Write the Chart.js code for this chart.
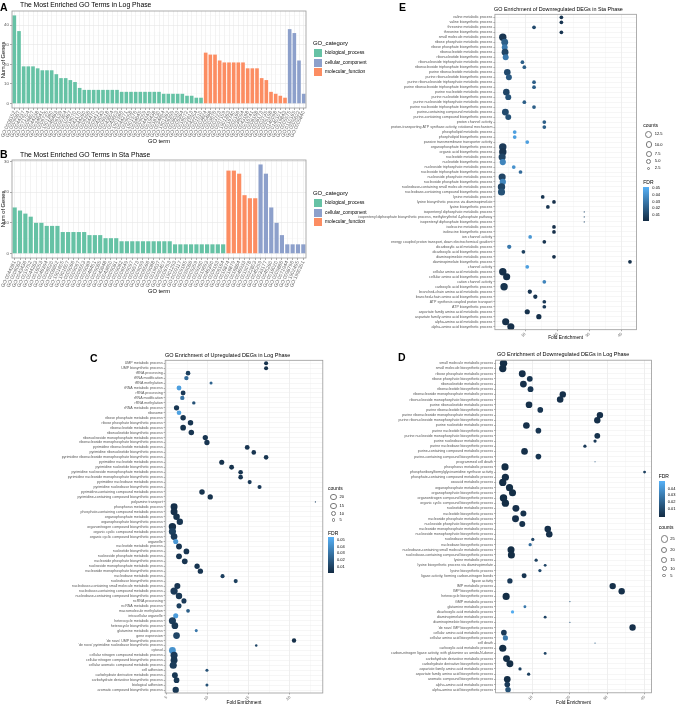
<!DOCTYPE html>
<html>
<head>
<meta charset="utf-8">
<script src="https://cdn.jsdelivr.net/npm/chart.js@4.4.1/dist/chart.umd.min.js"></script>
<style>
body { margin: 0; background: #fff; }
#page { position: relative; width: 678px; height: 708px; overflow: hidden; font-family: 'Liberation Sans', Arial, sans-serif; }
canvas { position: absolute; }
.t { position: absolute; white-space: nowrap; line-height: 1; color: #000; }
.b { position: absolute; box-sizing: border-box; }
</style>
</head>
<body>
<div id="page">
  <canvas id="cA" width="340" height="150" style="left:0;top:0"></canvas>
  <canvas id="cB" width="340" height="150" style="left:0;top:145px"></canvas>
  <canvas id="cE" width="338" height="340" style="left:340px;top:0"></canvas>
  <canvas id="cC" width="340" height="368" style="left:0;top:340px"></canvas>
  <canvas id="cD" width="338" height="368" style="left:340px;top:340px"></canvas>
</div>
<script>
const FONT = "'Liberation Sans', Arial, sans-serif";

// ---- A: most enriched GO terms, log phase
const aBioIds = ['GO:0008152','GO:0009987','GO:0044237','GO:0071704','GO:0006807','GO:0044238','GO:0034641','GO:0006725','GO:1901360','GO:0046483','GO:0006139','GO:0090304','GO:0010467','GO:0016070','GO:0043170','GO:0044260','GO:0006396','GO:0034470','GO:0006412','GO:0043043','GO:0006518','GO:0043604','GO:0043603','GO:1901566','GO:0044271','GO:0009058','GO:1901576','GO:0034645','GO:0009059','GO:0044249','GO:0019438','GO:0018130','GO:0034654','GO:1901362','GO:0006399','GO:0008033','GO:0006364','GO:0016072','GO:0022613','GO:0042254','GO:0001510'];
const aBioGenes = [45,37,19,19,19,18,17,17,17,15,13,13,12,11,8,7,7,7,7,7,7,7,7,6,6,6,6,6,6,6,6,6,5,5,5,5,5,4,4,3,3];
const aMolIds = ['GO:0003824','GO:0005488','GO:0003676','GO:0003723','GO:0097159','GO:1901363','GO:0016740','GO:0000166','GO:0036094','GO:0043168','GO:0016741','GO:0008168','GO:0008173','GO:0003735','GO:0005198','GO:0140098','GO:0140101','GO:0019843'];
const aMolGenes = [26,25,25,22,21,21,21,21,21,18,18,18,13,12,6,5,4,3];
const aCelIds = ['GO:0005575','GO:0110165','GO:0005622','GO:0005840'];
const aCelGenes = [38,36,22,5];

// ---- B: most enriched GO terms, sta phase
const bBioIds = ['GO:0044281','GO:0006082','GO:0043436','GO:0019752','GO:0044283','GO:0016053','GO:0046394','GO:0006520','GO:0008652','GO:1901605','GO:1901607','GO:0009066','GO:0009067','GO:0006553','GO:0009089','GO:0046451','GO:0009085','GO:0043648','GO:0043650','GO:0009081','GO:0009082','GO:0006549','GO:0009097','GO:0006573','GO:0009099','GO:0006566','GO:0009088','GO:0019637','GO:0090407','GO:0006753','GO:1901293','GO:0009117','GO:0009165','GO:0055086','GO:0009259','GO:0009260','GO:0019693','GO:0046390','GO:0006163','GO:0006164'];
const bBioGenes = [15,14,13,12,10,10,9,9,9,7,7,7,7,7,6,6,6,5,5,5,4,4,4,4,4,4,4,4,4,4,3,3,3,3,3,3,3,3,3,3];
const bMolIds = ['GO:0016874','GO:0016879','GO:0016884','GO:0046933','GO:0015078','GO:0022803'];
const bMolGenes = [27,27,26,19,18,18];
const bCelIds = ['GO:0045259','GO:0033177','GO:0045260','GO:0016020','GO:0005886','GO:0071944','GO:0098796','GO:1902495','GO:1990351'];
const bCelGenes = [29,26,15,10,6,3,3,3,3];

const goCategories = ['biological_process','cellular_component','molecular_function'];
const goColors = ['#66C2A5','#8DA0CB','#FC8D62'];

// ---- C: upregulated DEGs, log phase
const cTerms = ["UMP metabolic process","UMP biosynthetic process","tRNA processing","tRNA modification","tRNA methylation","tRNA metabolic process","rRNA processing","rRNA modification","rRNA methylation","rRNA metabolic process","ribosome","ribose phosphate metabolic process","ribose phosphate biosynthetic process","ribonucleotide metabolic process","ribonucleotide biosynthetic process","ribonucleoside monophosphate metabolic process","ribonucleoside monophosphate biosynthetic process","pyrimidine ribonucleotide metabolic process","pyrimidine ribonucleotide biosynthetic process","pyrimidine ribonucleoside monophosphate biosynthetic process","pyrimidine nucleotide metabolic process","pyrimidine nucleotide biosynthetic process","pyrimidine nucleoside monophosphate metabolic process","pyrimidine nucleoside monophosphate biosynthetic process","pyrimidine nucleobase metabolic process","pyrimidine nucleobase biosynthetic process","pyrimidine-containing compound metabolic process","pyrimidine-containing compound biosynthetic process","polyamine transport","phosphorus metabolic process","phosphate-containing compound metabolic process","organophosphate metabolic process","organophosphate biosynthetic process","organonitrogen compound biosynthetic process","organic cyclic compound metabolic process","organic cyclic compound biosynthetic process","organelle","nucleotide metabolic process","nucleotide biosynthetic process","nucleoside phosphate metabolic process","nucleoside phosphate biosynthetic process","nucleoside monophosphate metabolic process","nucleoside monophosphate biosynthetic process","nucleobase metabolic process","nucleobase biosynthetic process","nucleobase-containing small molecule metabolic process","nucleobase-containing compound metabolic process","nucleobase-containing compound biosynthetic process","ncRNA processing","ncRNA metabolic process","macromolecule methylation","intracellular organelle","heterocycle metabolic process","heterocycle biosynthetic process","glutamine metabolic process","gene expression","'de novo' UMP biosynthetic process","'de novo' pyrimidine nucleobase biosynthetic process","cytosol","cellular nitrogen compound metabolic process","cellular nitrogen compound biosynthetic process","cellular aromatic compound metabolic process","cell adhesion","carbohydrate derivative metabolic process","carbohydrate derivative biosynthetic process","biological adhesion","aromatic compound biosynthetic process"];
const cFold = [17.1,17.1,7.6,7.4,10.4,6.5,7.0,6.9,8.3,6.2,6.5,7.0,7.9,7.0,8.0,9.7,9.9,14.8,15.6,17.1,11.7,12.9,14.0,14.0,15.1,16.3,9.3,10.3,23.1,5.9,5.9,6.2,6.6,5.7,5.7,5.9,6.1,6.5,7.4,6.5,7.2,8.7,9.1,11.8,13.4,6.3,5.9,6.5,7.1,6.5,7.6,6.1,5.7,6.0,8.6,6.2,20.5,15.9,5.7,5.9,5.9,5.8,9.9,6.0,6.2,9.9,6.1];
const cCount = [6,6,8,7,3,9,9,7,4,11,8,12,12,13,12,11,11,9,8,8,10,9,8,8,6,6,12,11,1,21,21,18,17,24,22,19,10,14,13,14,13,11,11,6,6,15,23,17,10,10,5,10,22,19,3,19,7,2,20,22,21,22,3,14,13,3,17];
const cFdr = [0.003,0.003,0.008,0.025,0.022,0.045,0.006,0.028,0.015,0.005,0.046,0.004,0.004,0.003,0.004,0.004,0.004,0.004,0.004,0.004,0.003,0.003,0.004,0.004,0.006,0.006,0.003,0.003,0.01,0.002,0.002,0.003,0.004,0.002,0.008,0.006,0.042,0.004,0.004,0.004,0.004,0.004,0.004,0.008,0.008,0.004,0.006,0.005,0.006,0.008,0.02,0.044,0.007,0.005,0.03,0.01,0.002,0.01,0.04,0.006,0.005,0.007,0.015,0.005,0.005,0.015,0.005];

// ---- D: downregulated DEGs, log phase
const dTerms = ["small molecule metabolic process","small molecule biosynthetic process","ribose phosphate metabolic process","ribose phosphate biosynthetic process","ribonucleotide metabolic process","ribonucleotide biosynthetic process","ribonucleoside monophosphate metabolic process","ribonucleoside monophosphate biosynthetic process","purine ribonucleotide metabolic process","purine ribonucleotide biosynthetic process","purine ribonucleoside monophosphate metabolic process","purine ribonucleoside monophosphate biosynthetic process","purine nucleotide metabolic process","purine nucleotide biosynthetic process","purine nucleoside monophosphate biosynthetic process","purine nucleobase metabolic process","purine nucleobase biosynthetic process","purine-containing compound metabolic process","purine-containing compound biosynthetic process","programmed cell death","phosphorus metabolic process","phosphoribosylformylglycinamidine synthase activity","phosphate-containing compound metabolic process","oxoacid metabolic process","organophosphate metabolic process","organophosphate biosynthetic process","organonitrogen compound biosynthetic process","organic cyclic compound biosynthetic process","nucleotide metabolic process","nucleotide biosynthetic process","nucleoside phosphate metabolic process","nucleoside phosphate biosynthetic process","nucleoside monophosphate metabolic process","nucleoside monophosphate biosynthetic process","nucleobase metabolic process","nucleobase biosynthetic process","nucleobase-containing small molecule metabolic process","nucleobase-containing compound biosynthetic process","lysine metabolic process","lysine biosynthetic process via diaminopimelate","lysine biosynthetic process","ligase activity, forming carbon-nitrogen bonds","ligase activity","IMP metabolic process","IMP biosynthetic process","heterocycle biosynthetic process","GMP metabolic process","glutamine metabolic process","dicarboxylic acid metabolic process","diaminopimelate metabolic process","diaminopimelate biosynthetic process","'de novo' IMP biosynthetic process","cellular amino acid metabolic process","cellular amino acid biosynthetic process","cell death","carboxylic acid metabolic process","carbon-nitrogen ligase activity, with glutamine as amido-N-donor","carbohydrate derivative metabolic process","carbohydrate derivative biosynthetic process","aspartate family amino acid metabolic process","aspartate family amino acid biosynthetic process","aromatic compound biosynthetic process","alpha-amino acid metabolic process","alpha-amino acid biosynthetic process"];
const dFold = [2.4,2.2,7.4,9.4,7.7,9.6,18.2,17.5,9.2,12.2,28.1,27.4,8.5,11.7,27.4,26.8,24.1,8.0,11.7,26.8,2.8,40.0,2.9,2.2,4.0,4.8,2.4,2.9,5.7,7.7,5.6,7.4,14.2,14.6,10.2,9.5,4.4,4.5,11.1,13.5,12.1,7.9,4.1,31.5,33.9,3.1,20.1,8.1,4.8,13.5,20.1,36.8,2.5,2.9,26.8,2.2,13.5,3.2,4.1,6.8,9.1,3.4,3.4,3.6];
const dCount = [28,27,24,16,23,16,20,21,22,15,20,20,22,15,16,4,4,22,15,1,26,3,26,27,26,25,28,27,24,17,24,17,21,21,4,4,25,25,4,3,4,11,13,20,20,26,1,3,4,3,1,20,15,12,1,26,3,24,24,4,4,22,15,14];
const dFdr = [0.001,0.001,0.002,0.004,0.002,0.004,0.002,0.002,0.002,0.004,0.002,0.002,0.002,0.004,0.003,0.006,0.006,0.002,0.004,0.02,0.001,0.008,0.001,0.001,0.001,0.001,0.001,0.001,0.002,0.003,0.002,0.003,0.002,0.002,0.01,0.025,0.001,0.001,0.008,0.01,0.012,0.004,0.006,0.002,0.002,0.001,0.02,0.03,0.05,0.01,0.02,0.002,0.006,0.03,0.02,0.001,0.01,0.001,0.001,0.008,0.008,0.001,0.006,0.015];

// ---- E: downregulated DEGs, sta phase
const eTerms = ["valine metabolic process","valine biosynthetic process","threonine metabolic process","threonine biosynthetic process","small molecule metabolic process","ribose phosphate metabolic process","ribose phosphate biosynthetic process","ribonucleotide metabolic process","ribonucleotide biosynthetic process","ribonucleoside triphosphate metabolic process","ribonucleoside triphosphate biosynthetic process","purine ribonucleotide metabolic process","purine ribonucleotide biosynthetic process","purine ribonucleoside triphosphate metabolic process","purine ribonucleoside triphosphate biosynthetic process","purine nucleotide metabolic process","purine nucleotide biosynthetic process","purine nucleoside triphosphate metabolic process","purine nucleoside triphosphate biosynthetic process","purine-containing compound metabolic process","purine-containing compound biosynthetic process","proton channel activity","proton-transporting ATP synthase activity, rotational mechanism","phospholipid metabolic process","phospholipid biosynthetic process","passive transmembrane transporter activity","organophosphate biosynthetic process","organic acid biosynthetic process","nucleotide metabolic process","nucleotide biosynthetic process","nucleoside triphosphate metabolic process","nucleoside triphosphate biosynthetic process","nucleoside phosphate metabolic process","nucleoside phosphate biosynthetic process","nucleobase-containing small molecule metabolic process","nucleobase-containing compound biosynthetic process","lysine metabolic process","lysine biosynthetic process via diaminopimelate","lysine biosynthetic process","isopentenyl diphosphate metabolic process","isopentenyl diphosphate biosynthetic process, methylerythritol 4-phosphate pathway","isopentenyl diphosphate biosynthetic process","isoleucine metabolic process","isoleucine biosynthetic process","ion channel activity","energy coupled proton transport, down electrochemical gradient","dicarboxylic acid metabolic process","dicarboxylic acid biosynthetic process","diaminopimelate metabolic process","diaminopimelate biosynthetic process","channel activity","cellular amino acid metabolic process","cellular amino acid biosynthetic process","cation channel activity","carboxylic acid biosynthetic process","branched-chain amino acid metabolic process","branched-chain amino acid biosynthetic process","ATP synthesis coupled proton transport","ATP biosynthetic process","aspartate family amino acid metabolic process","aspartate family amino acid biosynthetic process","alpha-amino acid metabolic process","alpha-amino acid biosynthetic process"];
const eFold = [21.3,21.3,12.8,21.3,3.1,3.7,3.7,3.8,4.0,9.2,9.8,4.5,5.0,12.8,12.8,4.2,4.8,9.8,12.8,3.9,4.8,16.0,16.0,6.8,6.8,10.7,3.1,3.1,2.9,3.1,6.5,8.6,2.9,3.1,2.7,2.7,15.5,19.0,17.1,28.4,28.4,28.4,19.0,19.0,11.6,16.0,5.1,9.5,19.0,42.6,10.7,3.1,4.3,16.0,3.5,11.5,13.2,16.0,16.0,10.7,14.3,4.0,5.6];
const eCount = [3,3,3,3,13,11,8,11,8,3,3,10,8,3,3,10,8,3,3,11,8,3,3,3,3,3,13,13,12,9,3,3,12,9,13,12,3,3,3,1,1,1,3,3,3,3,4,3,3,3,3,13,12,3,13,4,4,3,3,6,6,12,12];
const eFdr = [0.004,0.004,0.012,0.004,0.004,0.02,0.03,0.01,0.03,0.02,0.02,0.012,0.018,0.02,0.02,0.01,0.015,0.02,0.02,0.012,0.015,0.02,0.02,0.045,0.045,0.045,0.006,0.004,0.01,0.035,0.04,0.025,0.01,0.035,0.01,0.015,0.004,0.002,0.004,0.012,0.012,0.012,0.002,0.002,0.042,0.004,0.03,0.008,0.002,0.002,0.045,0.002,0.002,0.035,0.003,0.004,0.004,0.006,0.006,0.003,0.002,0.002,0.002];

Chart.defaults.font.family = FONT;
const page = document.getElementById('page');

// grey frame round the panel, like theme_bw
const frame = {
  id: 'frame',
  afterDraw(chart) {
    const a = chart.chartArea, c = chart.ctx;
    c.save();
    c.strokeStyle = '#9a9a9a';
    c.lineWidth = 0.8;
    c.strokeRect(a.left, a.top, a.right - a.left, a.bottom - a.top);
    c.restore();
  }
};

function fdrColor(f) {
  const t = Math.min(1, f / 0.052);
  const lo = [19, 43, 67], hi = [86, 177, 247];
  const m = lo.map((v, i) => Math.round(v + (hi[i] - v) * t));
  return 'rgb(' + m.join(',') + ')';
}

function put(text, x, y, size, o = {}) {
  const d = document.createElement('div');
  d.className = 't';
  d.textContent = text;
  d.style.fontSize = size + 'px';
  d.style.left = x + 'px';
  d.style.top = y + 'px';
  d.style.transform = o.rotate ? 'translate(-50%,-50%) rotate(-90deg)' : (o.center ? 'translate(-50%,-50%)' : 'translateY(-50%)');
  if (o.bold) d.style.fontWeight = 'bold';
  if (o.color) d.style.color = o.color;
  page.appendChild(d);
}

function box(x, y, w, h, css) {
  const d = document.createElement('div');
  d.className = 'b';
  Object.assign(d.style, { left: x + 'px', top: y + 'px', width: w + 'px', height: h + 'px' }, css);
  page.appendChild(d);
}

function goBars(id, groups, lo, hi, top, xh) {
  const labels = [].concat(...groups.map(g => g.ids));
  let start = 0;
  const datasets = groups.map(g => {
    const s = start;
    start += g.vals.length;
    return {
      data: labels.map((_, i) => (i >= s && i < s + g.vals.length) ? g.vals[i - s] : null),
      backgroundColor: g.color,
      grouped: false,
      barPercentage: 0.78,
      categoryPercentage: 1
    };
  });
  const yTop = Math.floor(hi / 5) * 5;
  return new Chart(document.getElementById(id), {
    type: 'bar',
    data: { labels, datasets },
    options: {
      responsive: false, animation: false, events: [],
      layout: { padding: { top: top, right: 34, left: 0, bottom: 0 } },
      plugins: { legend: { display: false }, tooltip: { enabled: false } },
      scales: {
        x: {
          grid: { offset: false, color: '#ebebeb', lineWidth: 0.6, tickLength: 2, tickColor: '#555', tickWidth: 0.5 },
          border: { display: false },
          ticks: { autoSkip: false, minRotation: 65, maxRotation: 65, padding: 0, color: '#666', font: { size: 5 } },
          afterFit: s => { s.height = xh; s.paddingLeft = 0; s.paddingRight = 0; }
        },
        y: {
          min: lo, max: hi,
          afterBuildTicks: ax => { const t = []; for (let v = 0; v <= yTop; v += 5) t.push({ value: v }); ax.ticks = t; },
          grid: {
            color: c => c.tick.value % 10 === 0 ? '#e6e6e6' : '#f2f2f2',
            lineWidth: c => c.tick.value % 10 === 0 ? 0.6 : 0.4,
            tickLength: 2, tickWidth: 0.5,
            tickColor: c => c.tick.value % 10 === 0 ? '#555' : 'rgba(0,0,0,0)'
          },
          border: { display: false },
          ticks: { callback: v => v % 10 === 0 ? v : '', padding: 1, color: '#555', font: { size: 4.4 } },
          afterFit: s => { s.width = 12; }
        }
      }
    },
    plugins: [frame]
  });
}

function goBubbles(id, terms, fold, counts, fdr, cfg) {
  const rad = c => 0.6 + 3.1 * Math.sqrt((c - cfg.cLo) / (cfg.cHi - cfg.cLo));
  const n = terms.length;
  const major = v => Math.abs(v / cfg.major - Math.round(v / cfg.major)) < 1e-6;
  new Chart(document.getElementById(id), {
    type: 'bubble',
    data: {
      datasets: [{
        data: terms.map((t, i) => ({ x: fold[i], y: i + 1, r: rad(counts[i]) })),
        backgroundColor: fdr.map(fdrColor),
        borderWidth: 0
      }]
    },
    options: {
      responsive: false, animation: false, events: [],
      layout: { padding: { top: cfg.top, right: cfg.right, left: 0, bottom: 0 } },
      plugins: { legend: { display: false }, tooltip: { enabled: false } },
      scales: {
        x: {
          type: 'linear', min: cfg.xMin, max: cfg.xMax,
          afterBuildTicks: ax => { ax.ticks = cfg.xTicks.map(v => ({ value: v })); },
          grid: {
            color: c => major(c.tick.value) ? '#e4e4e4' : '#f1f1f1',
            lineWidth: c => major(c.tick.value) ? 0.6 : 0.4,
            tickLength: 1.5, tickWidth: 0.5,
            tickColor: c => major(c.tick.value) ? '#555' : 'rgba(0,0,0,0)'
          },
          border: { display: false },
          ticks: { callback: v => major(v) ? v : '', minRotation: 45, maxRotation: 45, padding: 0.5, color: '#666', font: { size: 4 } },
          afterFit: s => { s.height = cfg.xh; s.paddingLeft = 0; s.paddingRight = 0; }
        },
        y: {
          type: 'linear', reverse: true, min: 0.4, max: n + 0.6,
          afterBuildTicks: ax => { ax.ticks = terms.map((t, i) => ({ value: i + 1 })); },
          grid: { color: '#ededed', lineWidth: 0.5, tickLength: 1.5, tickColor: '#555', tickWidth: 0.5 },
          border: { display: false },
          ticks: { autoSkip: false, callback: (v, i) => terms[i], padding: 1, color: '#555', font: { size: 3.6 } },
          afterFit: s => { s.width = cfg.yw; }
        }
      }
    },
    plugins: [frame]
  });
  return rad;
}

// ---- draw the two bar panels
const groupsA = [
  { ids: aBioIds, vals: aBioGenes, color: goColors[0] },
  { ids: aMolIds, vals: aMolGenes, color: goColors[2] },
  { ids: aCelIds, vals: aCelGenes, color: goColors[1] }
];
const groupsB = [
  { ids: bBioIds, vals: bBioGenes, color: goColors[0] },
  { ids: bMolIds, vals: bMolGenes, color: goColors[2] },
  { ids: bCelIds, vals: bCelGenes, color: goColors[1] }
];
goBars('cA', groupsA, -2.25, 47.25, 11, 42);
goBars('cB', groupsB, -1.45, 30.45, 15, 37);

// ---- the three bubble panels
const radC = goBubbles('cC', cTerms, cFold, cCount, cFdr, {
  xMin: 4.82, xMax: 24.0, xTicks: [5, 7.5, 10, 12.5, 15, 17.5, 20, 22.5], major: 5,
  top: 20.3, right: 17.2, yw: 165.2, xh: 15, cLo: 1, cHi: 24
});
const radD = goBubbles('cD', dTerms, dFold, dCount, dFdr, {
  xMin: 0.29, xMax: 41.85, xTicks: [5, 10, 15, 20, 25, 30, 35, 40], major: 10,
  top: 20.2, right: 26.5, yw: 155.6, xh: 15.2, cLo: 1, cHi: 28
});
const radE = goBubbles('cE', eTerms, eFold, eCount, eFdr, {
  xMin: 0.65, xMax: 44.6, xTicks: [5, 10, 15, 20, 25, 30, 35, 40], major: 10,
  top: 14.3, right: 41.6, yw: 154.9, xh: 10.3, cLo: 1, cHi: 13
});

// ---- titles, panel letters, axis titles
put('A', 0, 6.5, 10.5, { bold: true });
put('The Most Enriched GO Terms in Log Phase', 20, 4.8, 6.8);
put('B', 0, 153.5, 10.5, { bold: true });
put('The Most Enriched GO Terms in Sta Phase', 20, 155, 6.8);
put('E', 399, 6.5, 10.5, { bold: true });
put('GO Enrichment of Downregulated DEGs in Sta Phase', 494, 10, 5.4);
put('C', 90, 357.5, 10.5, { bold: true });
put('GO Enrichment of Upregulated DEGs in Log Phase', 165, 356, 5.5);
put('D', 398, 357, 10.5, { bold: true });
put('GO Enrichment of Downregulated DEGs in Log Phase', 497, 355, 5.5);

put('Num of Genes', 4, 60, 5.7, { rotate: true });
put('Num of Genes', 4, 209, 5.7, { rotate: true });
put('GO term', 159, 141.5, 5.7, { center: true });
put('GO term', 159, 291.5, 5.7, { center: true });
put('Fold Enrichment', 244, 703, 4.8, { center: true });
put('Fold Enrichment', 573.5, 703, 4.8, { center: true });
put('Fold Enrichment', 565.6, 338, 4.8, { center: true });

// ---- GO category legends for A and B
[44, 194].forEach(y0 => {
  put('GO_category', 313, y0, 5.9);
  goCategories.forEach((name, i) => {
    const cy = y0 + 9.2 + i * 9.5;
    box(314, cy - 4, 7.7, 8, { background: goColors[i] });
    put(name, 325, cy, 4.8);
  });
});

// ---- counts and FDR legends
function countLegend(x, y, rad, values, step, fmt) {
  put('counts', x, y, 5);
  values.forEach((v, i) => {
    const r = rad(v), cx = x + 5.5, cy = y + step[i];
    box(cx - r, cy - r, 2 * r, 2 * r, { border: '0.6px solid #777', borderRadius: '50%' });
    put(fmt(v), cx + 6, cy, 4);
  });
}
function fdrLegend(x, y, top, bottom, labels, labelY) {
  put('FDR', x, y, 5);
  box(x, top, 6, bottom - top, { background: 'linear-gradient(#56B1F7, #132B43)' });
  labels.forEach((l, i) => put(l, x + 9, labelY[i], 4));
}

countLegend(328, 488, radC, [20, 15, 10, 5], [9, 18, 25.5, 32], v => String(v));
fdrLegend(328, 533, 537, 573, ['0.05','0.04','0.03','0.02','0.01'], [540, 546.7, 553.3, 560, 566.7]);

fdrLegend(658.7, 476, 480.7, 516.7, ['0.04','0.03','0.02','0.01'], [488.7, 495.3, 502, 509]);
countLegend(658.7, 527.3, radD, [25, 20, 15, 10, 5], [11.7, 22.7, 32.7, 41.4, 48.4], v => String(v));

countLegend(643.3, 125.3, radE, [12.5, 10, 7.5, 5, 2.5], [9, 19.4, 28.7, 36, 43], v => v.toFixed(1));
fdrLegend(643.3, 181.7, 187.3, 220.7, ['0.05','0.04','0.03','0.02','0.01'], [188.3, 195, 201.7, 208.3, 215]);
</script>
</body>
</html>
